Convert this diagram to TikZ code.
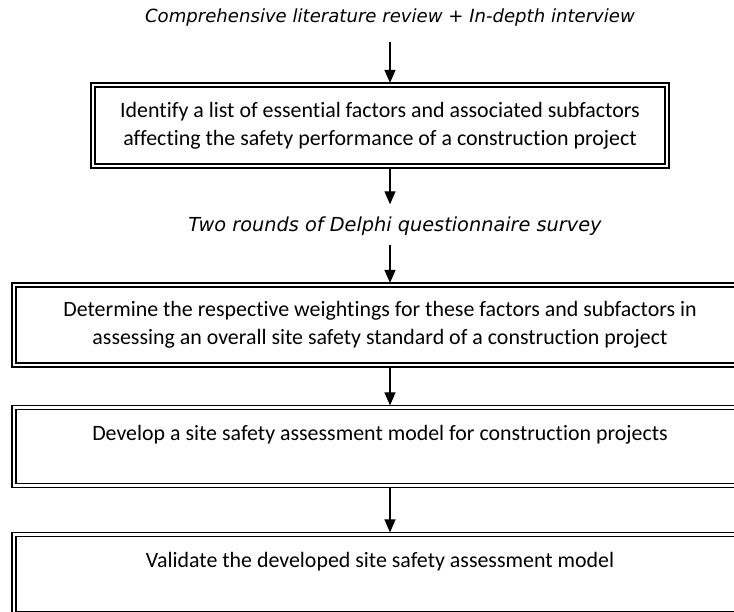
\documentclass[tikz,border=0pt]{standalone}
\usepackage{fontspec}
\setmainfont{Carlito}[Ligatures={NoCommon}]
\newfontfamily\notefont{DejaVu Sans}
\usetikzlibrary{arrows.meta}

\begin{document}
\begin{tikzpicture}[x=1pt,y={(0pt,-1pt)},
	stage/.style={draw,double,line width=1.2pt,double distance=2.8pt,align=center,
		inner sep=0pt,font=\fontsize{21.9}{28}\selectfont},
	note/.style={inner sep=0pt,text height=13pt,text depth=4pt,
		font=\notefont\itshape\fontsize{18.1}{20}\selectfont},
	arr/.style={line width=1.2pt,-{Triangle[width=11pt,length=13pt]}}]
	% page: 734 x 612, boxes 2-4 run past the right edge
	\clip (0,0) rectangle (734,612);
	\coordinate (spine) at (390,0);

	% methods
	\node[note] (lit) at (390,18) {Comprehensive literature review + In-depth interview};
	\node[note,font=\notefont\itshape\fontsize{19.3}{20}\selectfont] (delphi) at (395,227) {Two rounds of Delphi questionnaire survey};

	% stages
	\node[stage,minimum width=574pt,minimum height=81pt] (identify) at (380,125.5)
		{Identify a list of essential factors and associated subfactors\\affecting the safety performance of a construction project};
	\node[stage,minimum width=732pt,minimum height=80pt] (weight) at (380,325)
		{Determine the respective weightings for these factors and subfactors in\\assessing an overall site safety standard of a construction project};
	\node[stage,minimum width=732pt,minimum height=78pt] (model) at (380,446.5)
		{Develop a site safety assessment model for construction projects\\\mbox{}};
	\node[stage,minimum width=732pt,minimum height=79pt] (validate) at (380,574)
		{Validate the developed site safety assessment model\\\mbox{}};

	% flow
	\draw[arr,shorten <=15pt,shorten >=1.5pt] (lit.south -| spine) -- (identify.north -| spine);
	\draw[arr,shorten <=2pt,shorten >=14pt] (identify.south -| spine) -- (delphi.north -| spine);
	\draw[arr,shorten <=9pt,shorten >=1.5pt] (delphi.south -| spine) -- (weight.north -| spine);
	\draw[arr,shorten <=2pt,shorten >=1.5pt] (weight.south -| spine) -- (model.north -| spine);
	\draw[arr,shorten <=2pt,shorten >=1.5pt] (model.south -| spine) -- (validate.north -| spine);
\end{tikzpicture}
\end{document}
